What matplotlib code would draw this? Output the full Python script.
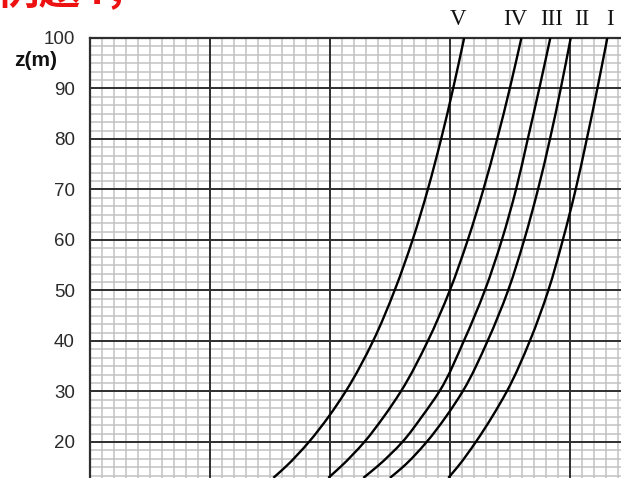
import numpy as np
import matplotlib
matplotlib.use("Agg")
import matplotlib.pyplot as plt
from matplotlib.ticker import MultipleLocator
from matplotlib.path import Path
from matplotlib.patches import PathPatch
import matplotlib.transforms as mtransforms

# ---- data (x in grid units: one major cell = 1) ----
z = [12.9, 15, 20, 25, 30, 40, 50, 60, 70, 80, 90, 100]
curve_V   = [1.528, 1.626, 1.824, 1.988, 2.130, 2.359, 2.538, 2.688, 2.815, 2.926, 3.026, 3.118]
curve_IV  = [1.986, 2.084, 2.286, 2.448, 2.590, 2.815, 2.998, 3.148, 3.278, 3.393, 3.498, 3.595]
curve_III = [2.278, 2.386, 2.603, 2.765, 2.911, 3.115, 3.290, 3.432, 3.550, 3.648, 3.744, 3.836]
curve_II  = [2.500, 2.605, 2.805, 2.966, 3.105, 3.313, 3.484, 3.618, 3.733, 3.833, 3.923, 4.006]
curve_I   = [2.986, 3.061, 3.215, 3.351, 3.473, 3.665, 3.819, 3.940, 4.047, 4.140, 4.228, 4.311]
curves = [curve_V, curve_IV, curve_III, curve_II, curve_I]
curve_labels = ["V", "IV", "III", "II", "I"]
label_x = [3.067, 3.542, 3.847, 4.097, 4.333]
y_ticks = [20, 30, 40, 50, 60, 70, 80, 90, 100]


def smooth_path(xs, zs):
    """Cubic Hermite (parameter z) through every data point, as a Bezier path."""
    xs = np.asarray(xs, float)
    zs = np.asarray(zs, float)
    n = len(xs)
    d = np.empty(n)
    d[0] = (xs[1] - xs[0]) / (zs[1] - zs[0])
    d[-1] = (xs[-1] - xs[-2]) / (zs[-1] - zs[-2])
    for i in range(1, n - 1):
        h0 = zs[i] - zs[i - 1]
        h1 = zs[i + 1] - zs[i]
        s0 = (xs[i] - xs[i - 1]) / h0
        s1 = (xs[i + 1] - xs[i]) / h1
        d[i] = (h1 * s0 + h0 * s1) / (h0 + h1)
    verts = [(xs[0], zs[0])]
    codes = [Path.MOVETO]
    for i in range(n - 1):
        h = zs[i + 1] - zs[i]
        verts += [(xs[i] + d[i] * h / 3, zs[i] + h / 3),
                  (xs[i + 1] - d[i + 1] * h / 3, zs[i + 1] - h / 3),
                  (xs[i + 1], zs[i + 1])]
        codes += [Path.CURVE4] * 3
    return Path(verts, codes)


fig = plt.figure(figsize=(6.21, 4.78), dpi=100)
fig.patch.set_facecolor("white")
ax = fig.add_axes([90/621, 0.0, 531/621, 440/478])

xmax = 531/120
ymin, ymax = 12.87, 100
ax.set_xlim(0, xmax)
ax.set_ylim(ymin, ymax)

ax.xaxis.set_major_locator(MultipleLocator(1))
ax.xaxis.set_minor_locator(MultipleLocator(0.1))
ax.yaxis.set_minor_locator(MultipleLocator(10/6))
ax.set_yticks(y_ticks)
ax.tick_params(which="both", length=0)
ax.tick_params(axis="x", labelbottom=False)
ax.tick_params(axis="y", labelsize=13.5, labelcolor="#2a2a2a", pad=11)
for lab in ax.get_yticklabels():
    lab.set_family(["Liberation Sans", "DejaVu Sans"])

# minor grid via the axis grid, major grid drawn on top of it
ax.set_axisbelow(True)
ax.grid(which="minor", color="#c2c2c2", lw=1.1)
ax.grid(which="major", visible=False)
for xv in np.arange(1, xmax, 1):
    ax.axvline(xv, color="#2e2e2e", lw=1.4, zorder=1)
for yv in y_ticks:
    ax.axhline(yv, color="#2e2e2e", lw=1.4, zorder=1)

for s in ["right", "bottom"]:
    ax.spines[s].set_visible(False)
for s in ["left", "top"]:
    ax.spines[s].set_color("#2e2e2e")
    ax.spines[s].set_linewidth(1.6)

for c in curves:
    ax.add_patch(PathPatch(smooth_path(c, z), facecolor="none", edgecolor="black",
                           lw=1.7, zorder=3))

trans = mtransforms.blended_transform_factory(ax.transData, ax.transAxes)
for lx, lab in zip(label_x, curve_labels):
    ax.text(lx, 1.041, lab, transform=trans, ha="center", va="center",
            fontsize=16.5, family=["Liberation Serif", "DejaVu Serif"],
            color="#111111", clip_on=False)

ax.text(-0.1017, 0.95, "z(m)", transform=ax.transAxes, ha="center", va="center",
        fontsize=15, fontweight="bold", family=["Liberation Sans", "DejaVu Sans"],
        color="#111111", clip_on=False)

# cropped red heading at the very top
fig.text(-0.005, 1 - 13/478, "例题4，", ha="left", va="bottom", fontsize=30,
         fontweight="bold", color="#ee1111",
         family=["Noto Sans CJK SC", "DejaVu Sans"], style="italic")

fig.savefig("out.png", dpi=100, facecolor="white")
